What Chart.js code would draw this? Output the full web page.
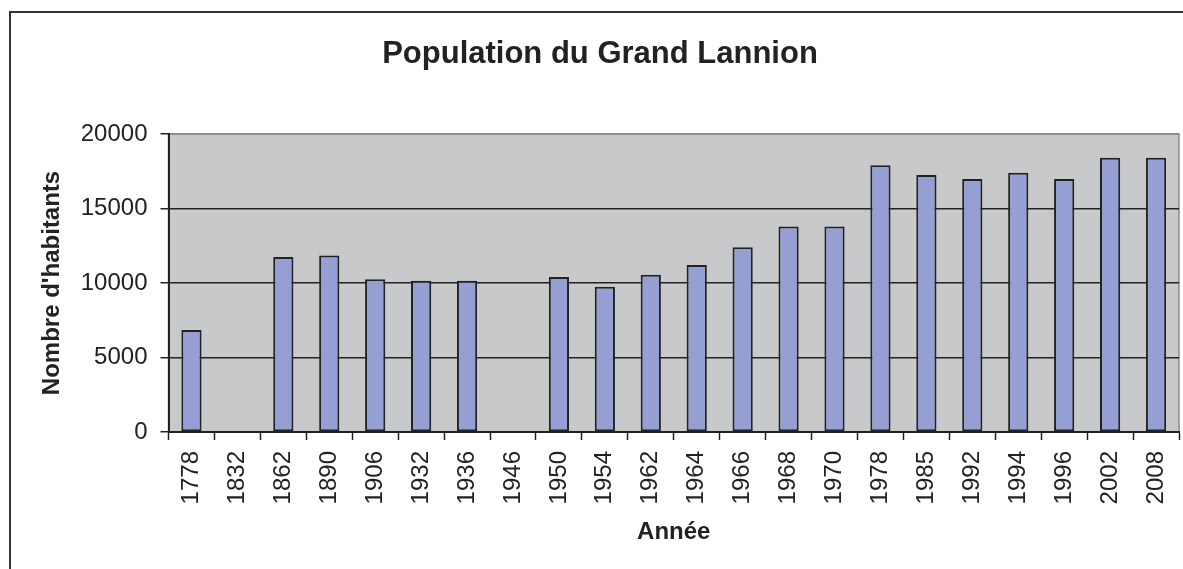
<!DOCTYPE html>
<html>
<head>
<meta charset="utf-8">
<script src="https://cdn.jsdelivr.net/npm/chart.js@4"></script>
<style>
  html, body { margin: 0; padding: 0; background: #fff; overflow: hidden; }
  #wrap { position: relative; width: 1183px; height: 569px; }
  #frame {
    position: absolute; left: 9px; top: 11px; right: -10px; bottom: -10px;
    border: 2px solid #333; pointer-events: none;
  }
</style>
</head>
<body>
<div id="wrap">
  <canvas id="chart" width="1183" height="569"></canvas>
  <div id="frame"></div>
</div>
<script>
const years = ["1778", "1832", "1862", "1890", "1906", "1932", "1936", "1946", "1950", "1954", "1962",
  "1964", "1966", "1968", "1970", "1978", "1985", "1992", "1994", "1996", "2002", "2008"];
const population = [6850, null, 11750, 11850, 10250, 10150, 10150, null, 10400, 9750, 10550,
  11200, 12400, 13800, 13800, 17900, 17250, 16980, 17400, 16980, 18400, 18400];
const yTicks = [0, 5000, 10000, 15000, 20000];

const FONT = "'Liberation Sans', Arial, sans-serif";

// grey plot background + thin outline
const plotBackground = {
  id: "plotBackground",
  beforeDraw(chart) {
    const { ctx, chartArea: a } = chart;
    ctx.save();
    ctx.fillStyle = "#c8c9cb";
    ctx.fillRect(a.left, a.top, a.right - a.left, a.bottom - a.top);
    ctx.strokeStyle = "#8a8a8a";
    ctx.lineWidth = 1.5;
    ctx.strokeRect(a.left, a.top, a.right - a.left, a.bottom - a.top);
    ctx.restore();
  }
};

// title drawn slightly right of canvas centre, like the original
const chartTitle = {
  id: "chartTitle",
  afterDraw(chart) {
    const ctx = chart.ctx;
    ctx.save();
    ctx.font = "bold 31px " + FONT;
    ctx.fillStyle = "#222";
    ctx.textAlign = "center";
    ctx.textBaseline = "middle";
    ctx.fillText("Population du Grand Lannion", 600, 54);
    ctx.restore();
  }
};

new Chart(document.getElementById("chart"), {
  type: "bar",
  data: {
    labels: years,
    datasets: [{
      label: "Population",
      data: population,
      backgroundColor: "#959fd3",
      borderColor: "#222",
      borderWidth: 2,
      borderSkipped: false,
      barPercentage: 0.44,
      categoryPercentage: 1
    }]
  },
  options: {
    responsive: false,
    animation: false,
    layout: { padding: { top: 134, right: 4, left: 0, bottom: 0 } },
    plugins: {
      legend: { display: false },
      tooltip: { enabled: false },
      title: { display: false }
    },
    scales: {
      x: {
        grid: {
          offset: true,
          drawOnChartArea: false,
          drawTicks: true,
          tickLength: 8,
          tickColor: "#222",
          tickWidth: 1.5
        },
        border: { color: "#222", width: 2 },
        ticks: {
          minRotation: 90,
          maxRotation: 90,
          padding: 11,
          color: "#222",
          font: { family: FONT, size: 24 }
        },
        title: {
          display: true,
          text: "Année",
          color: "#222",
          font: { family: FONT, size: 24, weight: "bold" },
          padding: { top: 0, bottom: 22.6 }
        },
        afterFit(scale) {
          scale.height = 137;
          scale.paddingLeft = 0;
          scale.paddingRight = 0;
        }
      },
      y: {
        min: 0,
        max: 20000,
        afterBuildTicks(scale) { scale.ticks = yTicks.map(v => ({ value: v })); },
        grid: {
          color: ctx => (ctx.tick && ctx.tick.value === 20000 ? "#8a8a8a" : "#222"),
          lineWidth: 1.5,
          tickLength: 8,
          tickColor: "#222",
          tickWidth: 1.5
        },
        border: { color: "#222", width: 2 },
        ticks: {
          padding: 13,
          color: "#222",
          font: { family: FONT, size: 24 },
          callback: v => String(v)
        },
        title: {
          display: true,
          text: "Nombre d'habitants",
          color: "#222",
          font: { family: FONT, size: 24, weight: "bold" },
          padding: { top: 37.6, bottom: 0 }
        },
        afterFit(scale) { scale.width = 168.5; }
      }
    }
  },
  plugins: [plotBackground, chartTitle]
});
</script>
</body>
</html>
